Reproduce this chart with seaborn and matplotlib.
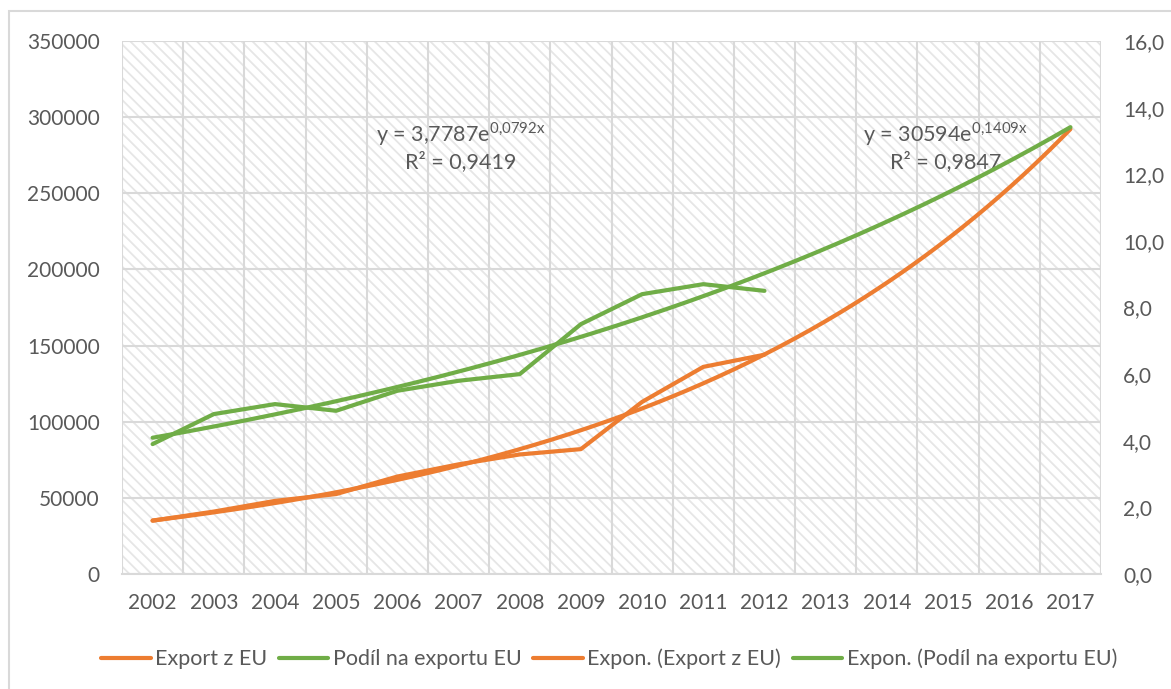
import numpy as np
import pandas as pd
import matplotlib.pyplot as plt
from matplotlib.patches import Rectangle
from matplotlib.ticker import FixedLocator, FuncFormatter
import seaborn as sns

# Data
years = [str(y) for y in range(2002, 2018)]
export_eu = [35000, 41000, 48000, 52500, 64000, 72000, 78500, 82000, 113000, 136000, 144000]
podil_eu = [3.9, 4.8, 5.1, 4.9, 5.5, 5.8, 6.0, 7.5, 8.4, 8.7, 8.5]
left_ticks = [0, 50000, 100000, 150000, 200000, 250000, 300000, 350000]
right_ticks = [0, 2, 4, 6, 8, 10, 12, 14, 16]
labels = ["Export z EU", "Podíl na exportu EU",
          "Expon. (Export z EU)", "Expon. (Podíl na exportu EU)"]
eq_export = ("y = 30594e$^{\\mathrm{0{,}1409x}}$", "R² = 0,9847")
eq_podil = ("y = 3,7787e$^{\\mathrm{0{,}0792x}}$", "R² = 0,9419")

ORANGE = "#ED7D31"
GREEN = "#70AD47"
TXT = "#595959"
GRID = "#d9d9d9"

sns.set_style("white")
plt.rcParams['font.family'] = ['Lato', 'DejaVu Sans']
plt.rcParams['mathtext.fontset'] = 'custom'
plt.rcParams['mathtext.rm'] = 'Lato'
plt.rcParams['hatch.linewidth'] = 1.3

W, H = 1171, 689
fig = plt.figure(figsize=(W / 100, H / 100), dpi=100)
ax = fig.add_axes([122 / W, 1 - 574 / H, (1101 - 122) / W, (574 - 41) / H])
ax2 = ax.twinx()

df = pd.DataFrame({"pos": np.arange(len(export_eu)), "export": export_eu, "podil": podil_eu})

# exponential trends fitted like Excel (x = 1..n)
xfit = df["pos"].to_numpy() + 1
b1, a1 = np.polyfit(xfit, np.log(df["export"]), 1)
b2, a2 = np.polyfit(xfit, np.log(df["podil"]), 1)
xs = np.linspace(0, len(years) - 1, 300)
trend = pd.DataFrame({"pos": xs,
                      "export": np.exp(a1) * np.exp(b1 * (xs + 1)),
                      "podil": np.exp(a2) * np.exp(b2 * (xs + 1))})

kw = dict(lw=3, solid_capstyle='round', solid_joinstyle='round')
sns.lineplot(data=df, x="pos", y="export", ax=ax, color=ORANGE, label=labels[0], **kw)
sns.lineplot(data=trend, x="pos", y="export", ax=ax, color=ORANGE, label=labels[2], **kw)
sns.lineplot(data=df, x="pos", y="podil", ax=ax2, color=GREEN, label=labels[1], **kw)
sns.lineplot(data=trend, x="pos", y="podil", ax=ax2, color=GREEN, label=labels[3], **kw)

# hatched plot area
bg = Rectangle((0, 0), 1, 1, transform=ax.transAxes, facecolor='white',
               edgecolor='#e6e6e6', hatch='\\\\\\', lw=0, zorder=-5)
ax.add_patch(bg)
ax2.patch.set_visible(False)

ax.set_xlim(-0.5, len(years) - 0.5)
ax.set_ylim(0, 350000)
ax2.set_ylim(0, 16)
ax.set_xticks(range(len(years)))
ax.set_xticklabels(years)
ax.xaxis.set_minor_locator(FixedLocator(np.arange(-0.5, len(years), 1)))
ax.set_yticks(left_ticks)
ax.yaxis.set_major_formatter(FuncFormatter(lambda v, p: f"{int(v)}"))
ax2.set_yticks(right_ticks)
ax2.yaxis.set_major_formatter(FuncFormatter(lambda v, p: f"{v:.1f}".replace(".", ",")))

ax.grid(True, axis='y', which='major', color=GRID, lw=1.5)
ax.grid(True, axis='x', which='minor', color=GRID, lw=1.5)
ax.grid(False, axis='x', which='major')
ax2.grid(False)
ax.set_axisbelow(True)

for a in (ax, ax2):
    for s in a.spines.values():
        s.set_visible(False)
    a.set_xlabel("")
    a.set_ylabel("")
ax.spines['bottom'].set_visible(True)
ax.spines['bottom'].set_color(GRID)
ax.spines['bottom'].set_linewidth(1.5)

ax.tick_params(axis='x', which='major', length=0, pad=14, labelsize=15, labelcolor=TXT)
ax.tick_params(axis='x', which='minor', length=5, width=1.5, color=GRID)
ax.tick_params(axis='y', length=0, pad=16, labelsize=15, labelcolor=TXT)
ax2.tick_params(axis='y', length=0, pad=16, labelsize=15, labelcolor=TXT)

# trendline equations
for xpos, (l1, l2) in [(5.04, eq_podil), (12.96, eq_export)]:
    ax.text(xpos, 289000, l1, ha='center', va='center', fontsize=15.5, color=TXT)
    ax.text(xpos, 271000, l2, ha='center', va='center', fontsize=15.5, color=TXT)

# legend
h1, lab1 = ax.get_legend_handles_labels()
h2, lab2 = ax2.get_legend_handles_labels()
for a in (ax, ax2):
    if a.get_legend():
        a.get_legend().remove()
handles = dict(zip(lab1 + lab2, h1 + h2))
fig.legend([handles[l] for l in labels], labels, loc='center', ncol=4,
           bbox_to_anchor=(609 / W, 1 - 659 / H), frameon=False, fontsize=15.5,
           labelcolor=TXT, handlelength=2.3, handletextpad=0.2, columnspacing=0.55)

# chart border
fig.patches.append(Rectangle((9 / W, -0.1), 1.2, 1.1 - 11 / H, transform=fig.transFigure,
                             fill=False, edgecolor=GRID, lw=1.5))

fig.savefig("out.png", dpi=100)
